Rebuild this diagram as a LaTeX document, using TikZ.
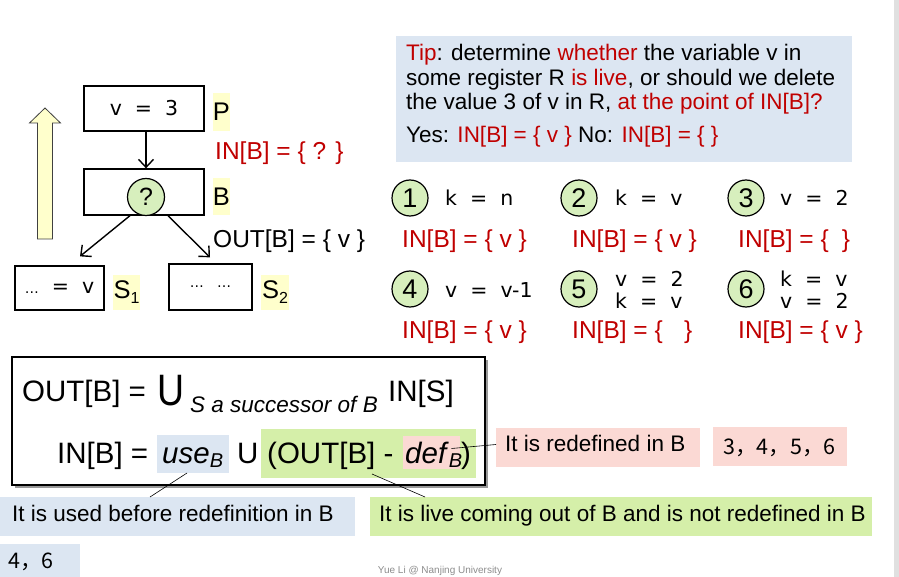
\documentclass[tikz,border=0pt]{standalone}
\usepackage{graphicx}
\usepackage{fontspec}
\setmainfont{Liberation Sans}
\newfontfamily\dv{DejaVu Sans}
\newfontfamily\cjk{Noto Sans CJK SC}
\usetikzlibrary{arrows.meta}
\definecolor{redtx}{HTML}{C00000}
\definecolor{tipblue}{HTML}{DCE6F2}
\definecolor{hlgreen}{HTML}{D5EFA9}
\definecolor{hlpink}{HTML}{FBD9D4}
\definecolor{hlyellow}{HTML}{FFFFCC}
\definecolor{circgreen}{HTML}{D7EFBD}
\newcommand\fs[1]{\fontsize{#1}{#1}\selectfont}
\begin{document}
\begin{tikzpicture}[x=1pt,y=-1pt,
  blk/.style={draw, line width=1.3pt, fill=white, inner sep=0pt, font=\dv\fs{20.5}},
  lbl/.style={fill=hlyellow, inner sep=0pt, font=\fs{25.5}},
  numc/.style={circle, draw, line width=1.2pt, fill=circgreen, minimum size=36pt, inner sep=0pt, font=\fs{27}},
  stmt/.style={anchor=base west, inner sep=0pt, font=\dv\fs{20.5}},
  redin/.style={anchor=base west, inner sep=0pt, text=redtx, font=\fs{24.5}},
  tiptx/.style={anchor=base west, inner sep=0pt, font=\fs{22.5}},
  cjktx/.style={anchor=base west, inner sep=0pt, font=\cjk\fs{21.5}},
  fx/.style={anchor=base west, inner sep=0pt, font=\fs{29.5}},
  bg/.style={inner sep=0pt, outer sep=0pt},
  flow/.style={line width=1.4pt, -{Straight Barb[length=8pt,width=15pt]}},
  callout/.style={line width=0.6pt},
]
\useasboundingbox (0,0) rectangle (899,577);
\fill[black!12] (894,0) rectangle (899,577);

% big up arrow
\draw[fill=hlyellow, draw=black!75, line width=0.8pt]
  (37.5,239) -- (52.5,239) -- (52.5,123) -- (60.5,123) -- (45,108) -- (29.5,123) -- (37.5,123) -- cycle;

% flow graph
\node[blk, minimum width=120pt, minimum height=45pt] (pbox) at (144,108.5) {v~~=~~3};
\node[blk, minimum width=120pt, minimum height=46pt] (bbox) at (144,192) {};
\node[numc, minimum size=37pt, font=\fs{25}] (qc) at (146,197) {?};
\node[blk, minimum width=89pt, minimum height=44pt] (s1) at (59.5,288) {{\fs{14}…}~~=~~v};
\node[blk, minimum width=83pt, minimum height=46pt] (s2) at (210.5,287) {{\fs{14}…}~~{\fs{14}…}};

\node[lbl, minimum width=17pt, minimum height=38pt] (plbl) at (221.5,112) {P};
\node[lbl, minimum width=17pt, minimum height=37pt] (blbl) at (221.5,196.5) {B};
\node[lbl, minimum width=27pt, minimum height=35pt] (s1l) at (126.5,292.5) {S\raisebox{-5pt}{\fs{16}1}};
\node[lbl, minimum width=28pt, minimum height=35pt] (s2l) at (275,292.5) {S\raisebox{-5pt}{\fs{16}2}};

\node[redin] (inq) at (215,160) {IN[B] = \{ ? \}};
\node[anchor=base west, inner sep=0pt, font=\fs{24.5}] (outb) at (213,248) {OUT[B] = \{ v \}};

\draw[flow] ([xshift=2pt]pbox.south) -- ([xshift=2pt]bbox.north);
\draw[flow] ([xshift=-14pt]bbox.south) -- ([xshift=20.5pt,yshift=9pt]s1.north);
\draw[flow] ([xshift=24pt]bbox.south) -- ([xshift=-0.5pt,yshift=6pt]s2.north);

% tip box
\node[bg, fill=tipblue, minimum width=456pt, minimum height=126pt] (tipbox) at (624,99) {};
\node[tiptx] (tip1) at (406,61) {\textcolor{redtx}{Tip}: determine \textcolor{redtx}{whether} the variable v in};
\node[tiptx] (tip2) at (406,85.5) {some register R \textcolor{redtx}{is live}, or should we delete};
\node[tiptx] (tip3) at (406,110) {the value 3 of v in R, \textcolor{redtx}{at the point of IN[B]?}};
\node[tiptx] (tip4) at (406,143) {Yes: \textcolor{redtx}{IN[B] = \{ v \}} No: \textcolor{redtx}{IN[B] = \{ \}}};

% six cases
\node[numc] (n1) at (410,198) {1};
\node[numc] (n2) at (579,198) {2};
\node[numc] (n3) at (746,198) {3};
\node[numc] (n4) at (410,289) {4};
\node[numc] (n5) at (579,289) {5};
\node[numc] (n6) at (746,289) {6};
\node[stmt] (st1) at (445,206) {k~~=~~n};
\node[stmt] (st2) at (615,206) {k~~=~~v};
\node[stmt] (st3) at (780,206) {v~~=~~2};
\node[stmt] (st4) at (445,298) {v~~=~~v-1};
\node[stmt] (st5a) at (615,287) {v~~=~~2};
\node[stmt] (st5b) at (615,308) {k~~=~~v};
\node[stmt] (st6a) at (780,287) {k~~=~~v};
\node[stmt] (st6b) at (780,308) {v~~=~~2};
\node[redin] (r1) at (402,248) {IN[B] = \{ v \}};
\node[redin] (r2) at (572,248) {IN[B] = \{ v \}};
\node[redin] (r3) at (738,248) {IN[B] = \{\hspace{0.54em}\}};
\node[redin] (r4) at (402,338) {IN[B] = \{ v \}};
\node[redin] (r5) at (572,338) {IN[B] = \{\hspace{0.87em}\}};
\node[redin] (r6) at (738,338) {IN[B] = \{ v \}};

% formula box
\fill[black!40] (15,360) rectangle (488,488);
\node[draw, line width=1.5pt, fill=white, minimum width=473pt, minimum height=128pt, inner sep=0pt] (fbox) at (248.5,421) {};
\node[bg, fill=tipblue, minimum width=72pt, minimum height=38pt] (usebg) at (193,454) {};
\node[bg, fill=hlgreen, minimum width=215pt, minimum height=49pt] (livebg) at (368.5,453.5) {};
\node[bg, fill=hlpink, minimum width=57pt, minimum height=33pt] (defbg) at (431.5,452.5) {};

\node[fx] (f1a) at (22,401) {OUT[B] =};
\node[fx, font=\fs{44}] (f1u) at (157,405) {\scalebox{0.85}[1]{U}};
\node[fx, font=\fs{22.5}\itshape] (f1s) at (190,412) {S a successor of B};
\node[fx] (f1b) at (388,401) {IN[S]};
\node[fx] (f2a) at (57,463) {IN[B] =};
\node[fx] (f2u) at (162,463) {\textit{use}\raisebox{-4pt}{\fs{20}\itshape B}};
\node[fx] (f2cup) at (237,463) {U};
\node[fx] (f2p) at (267,463) {(OUT[B] -};
\node[fx] (f2d) at (405,463) {\textit{def}\raisebox{-4pt}{\fs{20}\itshape B}};
\node[fx] (f2c) at (461,463) {)};

% callouts
\node[bg, fill=tipblue, minimum width=355pt, minimum height=39pt] (co1) at (177.5,516.5) {};
\node[tiptx] (co1t) at (12,521) {It is used before redefinition in B};
\node[bg, fill=tipblue, minimum width=80pt, minimum height=46pt] (co46) at (40,567) {};
\node[cjktx] (co46t) at (8,568) {4，6};
\node[bg, fill=hlpink, minimum width=204pt, minimum height=39pt] (co2) at (598,447.5) {};
\node[tiptx] (co2t) at (505,451) {It is redefined in B};
\node[bg, fill=hlpink, minimum width=134pt, minimum height=39pt] (co3456) at (780,446.5) {};
\node[cjktx] (co3456t) at (723,454) {3，4，5，6};
\node[bg, fill=hlgreen, minimum width=502pt, minimum height=39pt] (co3) at (621,516.5) {};
\node[tiptx] (co3t) at (379,521) {It is live coming out of B and is not redefined in B};

\draw[callout] ([xshift=-6pt]usebg.south) -- ([xshift=150pt]co1.north west);
\draw[callout] ([xshift=3.5pt,yshift=4pt]livebg.south) -- ([xshift=55pt]co3.north west);
\draw[callout] ([xshift=20pt,yshift=4pt]defbg.center) -- ([yshift=3pt]co2.west);

\node[anchor=north, inner sep=0pt, text=black!45, font=\fs{10}] (foot) at (440,566) {Yue Li @ Nanjing University};
\end{tikzpicture}
\end{document}
